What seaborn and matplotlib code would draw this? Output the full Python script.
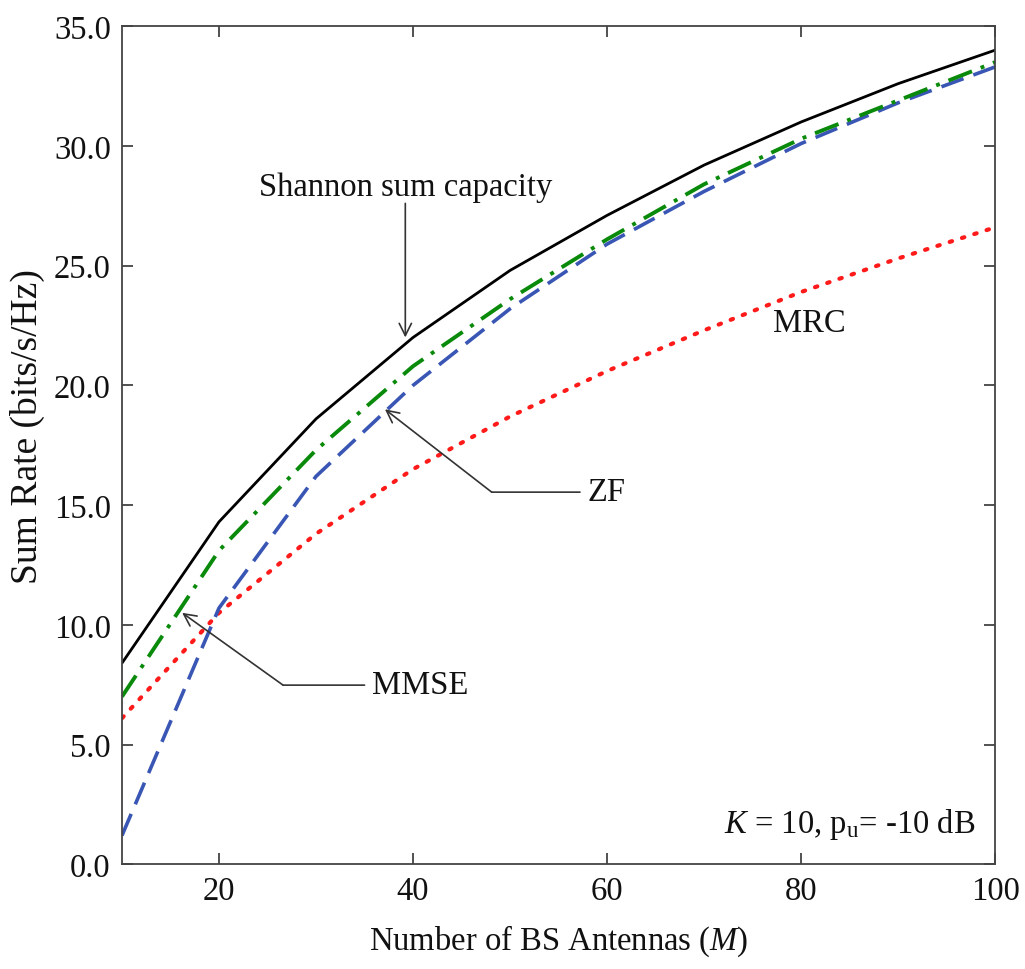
import numpy as np
import pandas as pd
import matplotlib
matplotlib.use("Agg")
import matplotlib.pyplot as plt
import seaborn as sns

antennas = [10, 20, 30, 40, 50, 60, 70, 80, 90, 100]
shannon = [8.4, 14.3, 18.6, 22.0, 24.8, 27.1, 29.2, 31.0, 32.6, 34.0]
mmse = [7.0, 13.1, 17.3, 20.8, 23.6, 26.1, 28.4, 30.3, 31.9, 33.5]
zf = [1.2, 10.7, 16.2, 20.0, 23.2, 25.9, 28.1, 30.1, 31.8, 33.3]
mrc = [6.1, 10.5, 13.8, 16.5, 18.7, 20.6, 22.3, 23.9, 25.3, 26.6]
yticks = [0, 5, 10, 15, 20, 25, 30, 35]
xticks = [20, 40, 60, 80, 100]

sns.set_theme(style="ticks")
plt.rcParams["font.family"] = ["Liberation Serif", "DejaVu Serif"]
plt.rcParams["mathtext.fontset"] = "custom"
plt.rcParams["mathtext.rm"] = "Liberation Serif"
plt.rcParams["mathtext.it"] = "Liberation Serif:italic"
plt.rcParams["text.color"] = "#111111"
plt.rcParams["axes.labelcolor"] = "#111111"

fig = plt.figure(figsize=(10.25, 9.7), dpi=100)
ax = fig.add_axes([0.119, 0.108, 0.852, 0.864])

df = pd.DataFrame({"M": antennas, "Shannon": shannon, "MMSE": mmse, "ZF": zf, "MRC": mrc})

styles = {
    "Shannon": dict(color="black", lw=2.0, ls="-"),
    "MRC": dict(color="#ff1a1a", lw=3.0, ls=(0, (0.6, 2.5)), round=True),
    "ZF": dict(color="#3a56b4", lw=2.6, ls=(0, (6.5, 2.9))),
    "MMSE": dict(color="#0a8a0a", lw=2.8, ls=(0, (6.5, 2.4, 1.0, 2.4))),
}
for name in ["MRC", "ZF", "MMSE", "Shannon"]:
    st = styles[name]
    sns.lineplot(data=df, x="M", y=name, ax=ax, color=st["color"], linewidth=st["lw"],
                 linestyle=st["ls"], legend=False)
    if st.get("round"):
        ax.lines[-1].set_dash_capstyle("round")

ax.set_xlim(10, 100)
ax.set_ylim(0, 35)
ax.set_xticks(xticks)
ax.set_xticklabels([str(v) for v in xticks])
ax.set_yticks(yticks)
ax.set_yticklabels([f"{v:.1f}" for v in yticks])
ax.tick_params(direction="in", length=8, width=1.2, labelsize=23.5, colors="#333333",
               top=True, right=True, pad=8)
for lab in ax.get_xticklabels() + ax.get_yticklabels():
    lab.set_color("#111111")
for sp in ax.spines.values():
    sp.set_visible(True)
    sp.set_linewidth(1.3)
    sp.set_color("#444444")

ax.set_xlabel("Number of BS Antennas ($\\mathit{M}$)", fontsize=23.5, labelpad=12)
ax.set_ylabel("Sum Rate (bits/s/Hz)", fontsize=27)
ax.yaxis.set_label_coords(-0.088, 0.523)

arrow = dict(arrowstyle="->", color="#333333", lw=1.2, mutation_scale=22, shrinkA=0, shrinkB=0)
seg = dict(arrowstyle="-", color="#333333", lw=1.2, shrinkA=0, shrinkB=0)

fs = 23.5
# Shannon
ax.text(39.2, 28.3, "Shannon sum capacity", fontsize=fs, ha="center", va="center")
ax.annotate("", xy=(39.2, 22.0), xytext=(39.2, 27.6), arrowprops=arrow)
# ZF
ax.text(58.0, 15.55, "ZF", fontsize=fs, ha="left", va="center")
ax.annotate("", xy=(48.1, 15.54), xytext=(57.2, 15.54), arrowprops=seg)
ax.annotate("", xy=(37.1, 19.0), xytext=(48.1, 15.54), arrowprops=arrow)
# MMSE
ax.text(35.8, 7.5, "MMSE", fontsize=fs, ha="left", va="center")
ax.annotate("", xy=(26.6, 7.48), xytext=(35.0, 7.48), arrowprops=seg)
ax.annotate("", xy=(16.2, 10.5), xytext=(26.6, 7.48), arrowprops=arrow)

ax.text(80.8, 22.6, "MRC", fontsize=fs, ha="center", va="center")
ax.text(98.0, 1.7, "$K$ = 10, p$_\\mathrm{u}$= -10 dB", fontsize=fs, ha="right", va="center")

fig.savefig("out.png", dpi=100)
